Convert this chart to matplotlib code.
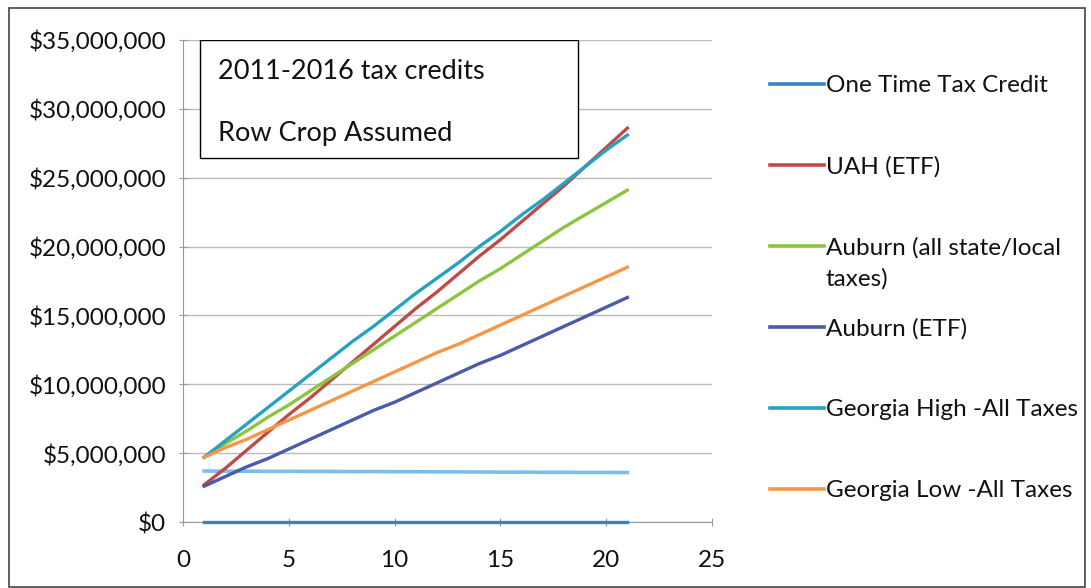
import matplotlib
matplotlib.use("Agg")
from matplotlib import pyplot as plt
from matplotlib.patches import Rectangle
from matplotlib.lines import Line2D
from matplotlib.ticker import FuncFormatter
import numpy as np

plt.rcParams['font.family'] = ['Lato', 'DejaVu Sans']

years = list(range(1, 22))

one_time = [0] * 21
flat_credit = [3.70, 3.69, 3.69, 3.68, 3.68, 3.67, 3.67, 3.66, 3.66, 3.65, 3.65,
               3.64, 3.64, 3.63, 3.62, 3.62, 3.61, 3.61, 3.60, 3.60, 3.59]
uah_etf = [2.7, 3.9, 5.2, 6.5, 7.8, 9.0, 10.3, 11.6, 12.9, 14.2, 15.5,
           16.7, 18.0, 19.3, 20.5, 21.8, 23.1, 24.4, 25.8, 27.2, 28.6]
auburn_all = [4.7, 5.7, 6.6, 7.6, 8.5, 9.5, 10.5, 11.5, 12.5, 13.5, 14.5,
              15.5, 16.5, 17.5, 18.4, 19.4, 20.4, 21.4, 22.3, 23.2, 24.1]
auburn_etf = [2.6, 3.3, 4.0, 4.6, 5.3, 6.0, 6.7, 7.4, 8.1, 8.7, 9.4,
              10.1, 10.8, 11.5, 12.1, 12.8, 13.5, 14.2, 14.9, 15.6, 16.3]
georgia_high = [4.7, 5.9, 7.1, 8.3, 9.5, 10.7, 11.9, 13.1, 14.2, 15.4, 16.6,
                17.7, 18.8, 20.0, 21.1, 22.3, 23.4, 24.6, 25.8, 27.0, 28.1]
georgia_low = [4.7, 5.4, 6.0, 6.7, 7.4, 8.1, 8.8, 9.5, 10.2, 10.9, 11.6,
               12.3, 12.9, 13.6, 14.3, 15.0, 15.7, 16.4, 17.1, 17.8, 18.5]

series = [
    ("One Time Tax Credit", one_time, '#3a82c8'),
    ("UAH (ETF)", uah_etf, '#be4b48'),
    ("Auburn (all state/local\ntaxes)", auburn_all, '#8dc43f'),
    ("Auburn (ETF)", auburn_etf, '#4b5aab'),
    ("Georgia High -All Taxes", georgia_high, '#25a2c2'),
    ("Georgia Low -All Taxes", georgia_low, '#f79646'),
]

W, H = 1091, 588
fig = plt.figure(figsize=(W / 100, H / 100), dpi=100)
ax = fig.add_axes([183 / W, 66 / H, 529 / W, 482 / H])

ax.plot(years, np.array(flat_credit) * 1e6, color='#7cbde9', lw=2.6, zorder=4)
for name, vals, col in series:
    ax.plot(years, np.array(vals) * 1e6, color=col, lw=2.4, label=name,
            zorder=4, clip_on=False)

ax.set_xlim(0, 25)
ax.set_ylim(0, 35e6)
ax.set_xticks(range(0, 26, 5))
ax.set_yticks(np.arange(0, 35.1e6, 5e6))
ax.yaxis.set_major_formatter(FuncFormatter(lambda v, p: "${:,.0f}".format(v)))
ax.tick_params(labelsize=17.5, colors='#999999', labelcolor='#111111',
               length=6, direction='inout')
ax.tick_params(axis='x', pad=17)
ax.tick_params(axis='y', pad=9)
ax.grid(axis='y', color='#bbbbbb', lw=1)
ax.set_axisbelow(True)
for s in ['top', 'right']:
    ax.spines[s].set_visible(False)
ax.spines['left'].set_color('#999999')
ax.spines['bottom'].set_color('#999999')

# note box in the top-left corner of the plot
ax.add_patch(Rectangle((0.032, 0.755), 0.715, 0.245, transform=ax.transAxes,
                       facecolor='white', edgecolor='black', lw=1, zorder=5))
ax.text(0.066, 0.934, "2011-2016 tax credits", transform=ax.transAxes,
        fontsize=19.5, va='center', color='#111111', zorder=6)
ax.text(0.066, 0.807, "Row Crop Assumed", transform=ax.transAxes,
        fontsize=19.5, va='center', color='#111111', zorder=6)

# legend rows: swatch on the first text line, fixed row pitch
for i, (name, vals, col) in enumerate(series):
    yrow = 1 - (84 + 81 * i) / H
    fig.add_artist(Line2D([770 / W, 824 / W], [yrow, yrow], color=col, lw=2.6))
    fig.text(826 / W, yrow + 9 / H, name, fontsize=17.5, va='top', ha='left',
             color='#111111', linespacing=1.55)

fig.add_artist(Rectangle((9 / W, 1 / H), 1076 / W, 579 / H, transform=fig.transFigure,
                         fill=False, edgecolor='#444444', lw=1.2))

fig.savefig("out.png", dpi=100)
